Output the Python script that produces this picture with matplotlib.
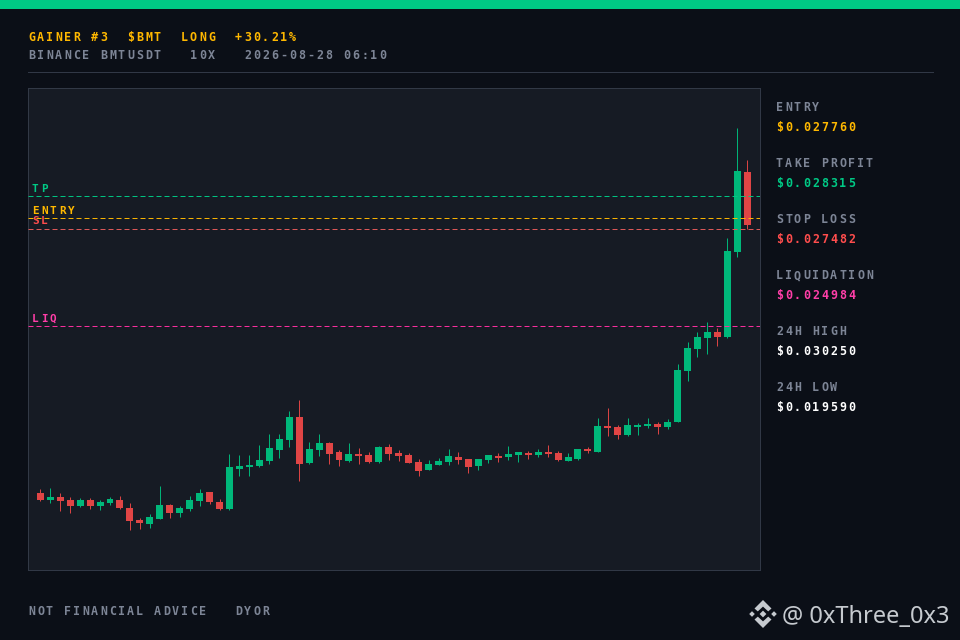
import matplotlib
matplotlib.use("Agg")
import matplotlib.pyplot as plt
from matplotlib.lines import Line2D
from matplotlib.patches import Polygon, Rectangle
from matplotlib.text import Text
from matplotlib.transforms import IdentityTransform
import numpy as np

plt.rcParams['lines.scale_dashes'] = False

# Prices in millionths of a USDT
opens = [20705,20525,20602,20525,20371,20525,20371,20448,20525,20319,20011,19908,20037,20396,20191,20294,20499,20731,20474,20294,
         21322,21373,21399,21527,21810,22067,22658,21476,21810,21990,21759,21527,21707,21681,21502,21887,21733,21681,21502,21296,
         21424,21502,21630,21579,21399,21553,21656,21630,21681,21733,21681,21759,21733,21527,21579,21836,21759,22427,22401,22195,
         22401,22427,22478,22401,22530,23841,24406,24689,24843,24715,26899,28955]
closes = [20525,20602,20499,20371,20525,20371,20474,20551,20319,19985,19934,20088,20396,20191,20319,20525,20705,20474,20294,21373,
          21399,21424,21553,21861,22093,22658,21450,21836,21990,21707,21553,21707,21656,21502,21887,21707,21656,21476,21270,21450,
          21527,21656,21553,21373,21579,21681,21604,21707,21759,21681,21759,21707,21553,21630,21836,21784,22427,22375,22195,22452,
          22452,22478,22401,22530,23866,24432,24715,24843,24715,26925,28981,27593]
highs = [20808,20833,20705,20602,20576,20576,20525,20602,20628,20448,20062,20165,20885,20422,20371,20628,20808,20731,20551,21707,
         21681,21681,21938,22221,22221,22812,23095,22016,22221,22016,21810,21990,21861,21759,21913,21964,21810,21733,21579,21553,
         21604,21836,21759,21579,21579,21681,21733,21913,21759,21784,21836,21938,21784,21733,21836,21887,22632,22889,22452,22632,
         22504,22632,22530,22607,24021,24586,24843,25100,24946,27259,30086,29263]
lows = [20499,20448,20242,20191,20345,20294,20268,20396,20294,19754,19780,19805,20037,20062,20088,20242,20371,20422,20268,20268,
        21142,21142,21373,21450,21604,21887,21013,21450,21656,21450,21399,21502,21450,21476,21476,21553,21527,21476,21142,21296,
        21424,21424,21450,21219,21296,21476,21502,21553,21502,21579,21630,21630,21527,21527,21553,21733,21759,22170,22093,22170,
        22195,22375,22221,22350,22530,23584,24201,24278,24483,24689,26771,27490]

level_names = ['TP', 'ENTRY', 'SL', 'LIQ']
level_prices = [28315, 27760, 27482, 24984]
level_colors = ['#00c985', '#ffb800', '#e35a5a', '#ff2fa0']
level_label_colors = ['#00c985', '#ffb800', '#ff4d4d', '#ff3ea8']

side_labels = ['ENTRY', 'TAKE PROFIT', 'STOP LOSS', 'LIQUIDATION', '24H HIGH', '24H LOW']
side_values = ['$0.027760', '$0.028315', '$0.027482', '$0.024984', '$0.030250', '$0.019590']
side_colors = ['#ffb800', '#00c985', '#ff4d4d', '#ff3ea8', '#ffffff', '#ffffff']

title_text = 'GAINER #3  $BMT  LONG  +30.21%'
sub_text = 'BINANCE BMTUSDT   10X   2026-08-28 06:10'
foot_text = 'NOT FINANCIAL ADVICE   DYOR'
mark_text = '@ 0xThree_0x3'

BG = '#0b0f17'
PANEL = '#161b24'
BORDER = '#333a48'
GREY = '#7d8596'
UP = '#00b87a'
DOWN = '#e04545'
W, H = 960, 640
HAIR = 0.7  # just under one pixel, so that straight lines snap to a single row


class TrackedText(Text):
    """One text whose characters are set on a fixed pixel advance."""
    def __init__(self, x, y, s, advance, **kw):
        super().__init__(x, y, s, **kw)
        self.advance = advance

    def draw(self, renderer):
        s = self.get_text()
        x0 = self.get_position()[0]
        for i, ch in enumerate(s):
            if ch == ' ':
                continue
            self.set_text(ch)
            self.set_x(x0 + i * self.advance)
            super().draw(renderer)
        self.set_text(s)
        self.set_x(x0)


fig = plt.figure(figsize=(W / 100, H / 100), dpi=100, facecolor=BG)
px = IdentityTransform()


def put(xp, yp, s, color, size=11.6):
    t = TrackedText(xp, H - yp, s, 9, color=color, fontsize=size * 0.72,
                    family='DejaVu Sans Mono', fontweight='bold',
                    ha='left', va='baseline', transform=px, zorder=10)
    fig.add_artist(t)
    return t


fig.add_artist(Rectangle((0, H - 9), W, 9, transform=px, facecolor='#00c985', edgecolor='none'))
fig.add_artist(Line2D([28, 933], [H - 72.2, H - 72.2], transform=px, color=BORDER, lw=HAIR))

L, R, T, B = 28, 760, 88, 570
ax = fig.add_axes([L / W, 1 - B / H, (R - L) / W, (B - T) / H], facecolor=PANEL)
ax.set_xticks([])
ax.set_yticks([])
for s in ax.spines.values():
    s.set_color(BORDER)
    s.set_linewidth(HAIR)

o, c, hi, lo = (np.array(a) / 1e6 for a in (opens, closes, highs, lows))
idx = np.arange(len(o))
cols = [UP if cc >= oo else DOWN for oo, cc in zip(o, c)]

wicks = ax.vlines(idx, lo, hi, colors=cols, linewidth=HAIR, zorder=2)
wicks.set_snap(True)
ax.bar(idx, np.abs(c - o), bottom=np.minimum(o, c), width=0.7, color=cols, linewidth=0, zorder=3)
ax.set_xlim(-1.235, 72.28)
ax.set_ylim(0.018715, 0.031102)

for p, col in zip(level_prices, level_colors):
    ax.axhline(p / 1e6, color=col, lw=HAIR, dashes=(3.6, 2.16), zorder=4)

for name, p, col in zip(level_names, level_prices, level_label_colors):
    yp = ax.transData.transform((0, p / 1e6))[1]
    put(32, H - yp - 4.5, name, col, size=11)

put(28, 41, title_text, '#ffb800')
put(28, 59, sub_text, GREY)

for i, (lab, val, col) in enumerate(zip(side_labels, side_values, side_colors)):
    put(776, 111 + 56 * i, lab, GREY)
    put(776, 131 + 56 * i, val, col)

put(28, 615, foot_text, GREY)

# Watermark
wm = '#c6cacf'
cx, cy = 763, 614


def diamond(x, y, r):
    fig.add_artist(Polygon([(x - r, H - y), (x, H - y - r), (x + r, H - y), (x, H - y + r)],
                           closed=True, transform=px, facecolor=wm, edgecolor='none'))


def chevron(pts):
    fig.add_artist(Polygon([(cx + a, H - (cy + b)) for a, b in pts], closed=True,
                           transform=px, facecolor=wm, edgecolor='none'))


diamond(cx, cy, 3.4)
diamond(cx - 11, cy, 2.8)
diamond(cx + 11, cy, 2.8)
chevron([(0, -14), (8.5, -5.5), (5.2, -2.6), (0, -7.4), (-5.2, -2.6), (-8.5, -5.5)])
chevron([(0, 14), (8.5, 5.5), (5.2, 2.6), (0, 7.4), (-5.2, 2.6), (-8.5, 5.5)])

fig.text(782 / W, 1 - 623 / H, mark_text, color=wm, fontsize=17, family='Noto Sans',
         ha='left', va='baseline')

fig.savefig('out.png', dpi=100, facecolor=BG)
